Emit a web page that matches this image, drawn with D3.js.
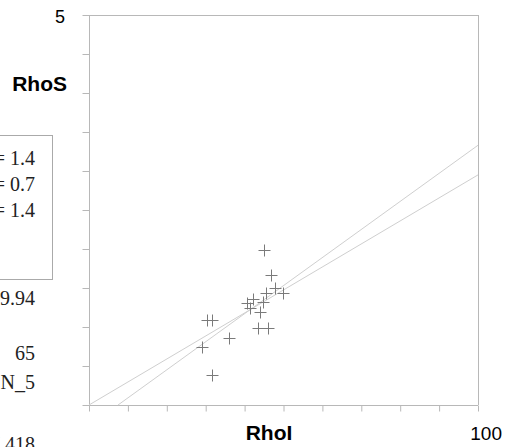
<!DOCTYPE html>
<html><head><meta charset="utf-8">
<script src="https://cdn.jsdelivr.net/npm/d3@7"></script>
<style>body{margin:0;background:#fff}svg{display:block}</style>
</head><body><svg id="c" width="506" height="447"></svg>
<script>
const pointsX = [45.07,46.79,47.81,49.95,45.42,42.24,40.54,44.81,41.39,43.96,43.52,46.09,30.26,31.54,36.07,28.97,31.54];
const pointsY = [1.987,1.667,1.496,1.432,1.44,1.355,1.304,1.324,1.24,1.196,0.983,0.983,1.09,1.09,0.855,0.747,0.385];
const line1 = [[0,0],[100,2.95]];
const line2 = [[7.46,0],[100,3.33]];
const xDomain = [0,100];
const yDomain = [0,5];
const xLabel = "RhoI", yLabel = "RhoS";
const xMaxLabel = "100", yMaxLabel = "5";
const boxLines = ["= 1.4","= 0.7","= 1.4"];
const sideLines = ["9.94","65","N_5","7.418"];

const svg = d3.select("#c");
const L=89,R=478,T=15,B=405;
const x = d3.scaleLinear().domain(xDomain).range([L,R]);
const y = d3.scaleLinear().domain(yDomain).range([B,T]);
const axisCol="#b8b8b8";

// frame
svg.append("line").attr("x1",L).attr("x2",R).attr("y1",T+0.5).attr("y2",T+0.5).attr("stroke",axisCol);
svg.append("line").attr("x1",R+0.5).attr("x2",R+0.5).attr("y1",T).attr("y2",B).attr("stroke",axisCol);

const yAxis = d3.axisLeft(y).ticks(10).tickSize(7).tickFormat("");
const gy = svg.append("g").attr("transform",`translate(${L+0.5},0)`).call(yAxis);
const xAxis = d3.axisBottom(x).ticks(10).tickSize(6).tickFormat("");
const gx = svg.append("g").attr("transform",`translate(0,${B+0.5})`).call(xAxis);
[gx,gy].forEach(g=>{g.selectAll("path").attr("stroke",axisCol);g.selectAll("line").attr("stroke",axisCol);});
gx.select(".domain").attr("d",`M${L},0H${R}`);
gy.select(".domain").attr("d",`M0,${T}V${B}`);

// lines
const lg = d3.line().x(d=>x(d[0])).y(d=>y(d[1]));
[line1,line2].forEach(l=>svg.append("path").attr("d",lg(l)).attr("fill","none").attr("stroke","#cfcfcf").attr("stroke-width",1));

// crosses
const s=6;
const pts = pointsX.map((v,i)=>[v,pointsY[i]]);
svg.append("g").selectAll("path").data(pts).join("path")
  .attr("d",d=>{const cx=Math.round(x(d[0]))+0.5, cy=Math.round(y(d[1]))+0.5;return `M${cx-s},${cy}H${cx+s}M${cx},${cy-s}V${cy+s}`;})
  .attr("stroke","#7a7a7a").attr("stroke-width",1).attr("fill","none");

// labels
const sans="Arial, 'Liberation Sans', sans-serif";
svg.append("text").attr("x",65).attr("y",23).attr("text-anchor","end").attr("font-family",sans).attr("font-size",18).text(yMaxLabel);
svg.append("text").attr("x",67).attr("y",91).attr("text-anchor","end").attr("font-family",sans).attr("font-size",21).attr("font-weight","bold").text(yLabel);
svg.append("text").attr("x",269).attr("y",440).attr("text-anchor","middle").attr("font-family",sans).attr("font-size",21).attr("font-weight","bold").text(xLabel);
svg.append("text").attr("x",502).attr("y",440).attr("text-anchor","end").attr("font-family",sans).attr("font-size",19).text(xMaxLabel);

// legend box
const serif="'Times New Roman','Liberation Serif',serif";
svg.append("rect").attr("x",-20.5).attr("y",135.5).attr("width",73).attr("height",144).attr("fill","none").attr("stroke","#aaa");
svg.append("g").selectAll("text").data(boxLines).join("text")
  .attr("x",35).attr("y",(d,i)=>165+i*26).attr("text-anchor","end").attr("font-family",serif).attr("font-size",20).attr("fill","#222").text(d=>d);
const sideY=[305,360,389,451];
svg.append("g").selectAll("text").data(sideLines).join("text")
  .attr("x",35).attr("y",(d,i)=>sideY[i]).attr("text-anchor","end").attr("font-family",serif).attr("font-size",20).attr("fill","#222").text(d=>d);
</script></body></html>
